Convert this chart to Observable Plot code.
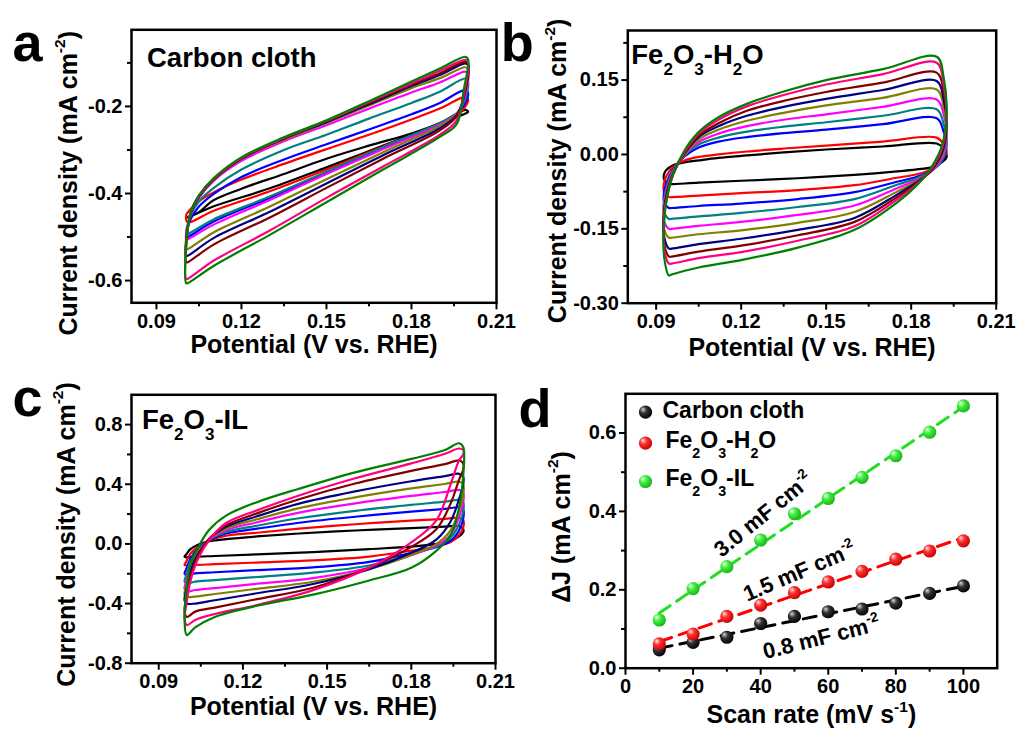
<!DOCTYPE html>
<html>
<head>
<meta charset="utf-8">
<script src="https://cdn.jsdelivr.net/npm/d3@7"></script>
<script src="https://cdn.jsdelivr.net/npm/@observablehq/plot@0.6"></script>
<style>
  html, body { margin: 0; padding: 0; background: #ffffff; }
  #fig { position: relative; width: 1019px; height: 731px; overflow: hidden; background: #ffffff; }
</style>
</head>
<body>
<svg width="0" height="0" style="position:absolute">
  <defs>
    <radialGradient id="ballK" cx="0.4" cy="0.4" r="0.65" fx="0.3" fy="0.28">
      <stop offset="0" stop-color="#d8d8d8"/><stop offset="0.4" stop-color="#333333"/><stop offset="1" stop-color="#000000"/>
    </radialGradient>
    <radialGradient id="ballR" cx="0.4" cy="0.4" r="0.65" fx="0.3" fy="0.28">
      <stop offset="0" stop-color="#ffe4e4"/><stop offset="0.4" stop-color="#ff3030"/><stop offset="1" stop-color="#c00000"/>
    </radialGradient>
    <radialGradient id="ballG" cx="0.4" cy="0.4" r="0.65" fx="0.3" fy="0.28">
      <stop offset="0" stop-color="#eeffee"/><stop offset="0.4" stop-color="#44ee44"/><stop offset="1" stop-color="#12b012"/>
    </radialGradient>
  </defs>
</svg>
<div id="fig"></div>
<script>
// ---------------- shared ----------------
const scanRates = [10, 20, 30, 40, 50, 60, 70, 80, 90, 100];
const cvColors = ["#000000", "#ff0000", "#0000ff", "#008080", "#ff00ff", "#808000", "#000080", "#800000", "#ff0080", "#008000"];
const panelLetters = ["a", "b", "c", "d"];
const panelTitles = ["Carbon cloth", "Fe_2O_3-H_2O", "Fe_2O_3-IL"];
const cvXTitle = "Potential (V vs. RHE)";
const cvYTitle = "Current density (mA cm^{-2})";
const dXTitle = "Scan rate (mV s^{-1})";
const dYTitle = "ΔJ (mA cm^{-2})";
const cvXTicks = [0.09, 0.12, 0.15, 0.18, 0.21];
const cvXMinor = [0.105, 0.135, 0.165, 0.195];

// ---------------- panel a: Carbon cloth ----------------
const aYTicks = [-0.6, -0.4, -0.2];
const aYMinor = [-0.5, -0.3, -0.1];
const aUpX = [0.1005, 0.102, 0.105, 0.11, 0.12, 0.135, 0.15, 0.165, 0.18, 0.19, 0.199];
const aUpY = [
  [-0.455, -0.452, -0.443, -0.416, -0.389, -0.355, -0.320, -0.290, -0.262, -0.238, -0.208],
  [-0.450, -0.436, -0.418, -0.398, -0.368, -0.332, -0.298, -0.265, -0.230, -0.205, -0.178],
  [-0.500, -0.460, -0.430, -0.402, -0.362, -0.322, -0.287, -0.253, -0.218, -0.192, -0.162],
  [-0.493, -0.452, -0.418, -0.388, -0.345, -0.300, -0.265, -0.228, -0.192, -0.166, -0.136],
  [-0.505, -0.448, -0.410, -0.372, -0.325, -0.280, -0.243, -0.205, -0.168, -0.145, -0.120],
  [-0.528, -0.447, -0.408, -0.370, -0.321, -0.276, -0.238, -0.198, -0.158, -0.135, -0.110],
  [-0.543, -0.447, -0.407, -0.369, -0.320, -0.274, -0.236, -0.195, -0.153, -0.128, -0.101],
  [-0.558, -0.446, -0.406, -0.368, -0.319, -0.273, -0.234, -0.192, -0.150, -0.124, -0.097],
  [-0.596, -0.446, -0.405, -0.367, -0.318, -0.272, -0.233, -0.190, -0.147, -0.118, -0.093],
  [-0.606, -0.445, -0.404, -0.366, -0.317, -0.271, -0.232, -0.188, -0.143, -0.113, -0.086]
];
const aDnX = [0.2, 0.1985, 0.196, 0.19, 0.17, 0.15, 0.13, 0.11, 0.101];
const aDnY = [
  [-0.212, -0.218, -0.224, -0.240, -0.290, -0.340, -0.388, -0.430, -0.455],
  [-0.185, -0.205, -0.222, -0.242, -0.292, -0.345, -0.395, -0.440, -0.466],
  [-0.170, -0.198, -0.218, -0.240, -0.295, -0.352, -0.410, -0.465, -0.500],
  [-0.145, -0.190, -0.215, -0.238, -0.293, -0.350, -0.407, -0.460, -0.493],
  [-0.125, -0.185, -0.217, -0.242, -0.298, -0.355, -0.415, -0.472, -0.505],
  [-0.115, -0.180, -0.218, -0.245, -0.305, -0.367, -0.430, -0.490, -0.528],
  [-0.106, -0.178, -0.220, -0.250, -0.312, -0.377, -0.442, -0.503, -0.543],
  [-0.102, -0.175, -0.222, -0.255, -0.320, -0.387, -0.455, -0.518, -0.558],
  [-0.098, -0.170, -0.232, -0.265, -0.338, -0.410, -0.485, -0.555, -0.596],
  [-0.092, -0.160, -0.240, -0.270, -0.345, -0.420, -0.495, -0.567, -0.606]
];

// ---------------- panel b: Fe2O3-H2O ----------------
const bYTicks = [-0.30, -0.15, 0.00, 0.15];
const bYMinor = [-0.225, -0.075, 0.075, 0.225];
const bUpX = [0.0945, 0.0928, 0.0927, 0.0935, 0.096, 0.1, 0.105, 0.112, 0.122, 0.135, 0.15, 0.17, 0.189];
const bUpY = [
  [-0.060, -0.050, -0.042, -0.032, -0.022, -0.016, -0.012, -0.007, -0.002, 0.004, 0.010, 0.016, 0.022],
  [-0.086, -0.075, -0.060, -0.045, -0.025, -0.012, -0.005, 0.000, 0.006, 0.012, 0.018, 0.026, 0.034],
  [-0.108, -0.095, -0.080, -0.060, -0.030, -0.004, 0.014, 0.026, 0.035, 0.043, 0.050, 0.061, 0.073],
  [-0.130, -0.115, -0.095, -0.070, -0.032, -0.002, 0.020, 0.034, 0.046, 0.056, 0.065, 0.078, 0.091],
  [-0.150, -0.135, -0.105, -0.075, -0.034, -0.001, 0.025, 0.042, 0.057, 0.070, 0.081, 0.096, 0.111],
  [-0.168, -0.150, -0.115, -0.080, -0.036, 0.000, 0.030, 0.050, 0.068, 0.084, 0.099, 0.114, 0.131],
  [-0.190, -0.165, -0.125, -0.085, -0.038, 0.002, 0.035, 0.057, 0.078, 0.096, 0.112, 0.130, 0.148],
  [-0.206, -0.180, -0.130, -0.090, -0.040, 0.003, 0.038, 0.063, 0.088, 0.108, 0.126, 0.145, 0.165],
  [-0.220, -0.190, -0.140, -0.095, -0.040, 0.005, 0.042, 0.070, 0.097, 0.120, 0.141, 0.162, 0.185],
  [-0.244, -0.205, -0.150, -0.100, -0.040, 0.008, 0.045, 0.075, 0.102, 0.127, 0.150, 0.172, 0.197]
];
const bDnX = [0.1915, 0.1925, 0.191, 0.187, 0.182, 0.175, 0.16, 0.14, 0.12, 0.105, 0.0955];
const bDnY = [
  [0.012, -0.005, -0.015, -0.026, -0.030, -0.034, -0.041, -0.048, -0.053, -0.057, -0.060],
  [0.020, 0.005, -0.010, -0.030, -0.040, -0.047, -0.062, -0.072, -0.078, -0.083, -0.086],
  [0.045, 0.020, -0.012, -0.033, -0.045, -0.055, -0.076, -0.090, -0.099, -0.104, -0.108],
  [0.060, 0.030, -0.010, -0.034, -0.048, -0.061, -0.090, -0.106, -0.118, -0.125, -0.130],
  [0.080, 0.040, -0.005, -0.034, -0.051, -0.068, -0.103, -0.122, -0.136, -0.144, -0.150],
  [0.095, 0.050, 0.000, -0.034, -0.054, -0.075, -0.116, -0.138, -0.153, -0.161, -0.168],
  [0.110, 0.060, 0.005, -0.033, -0.056, -0.081, -0.128, -0.152, -0.170, -0.181, -0.190],
  [0.125, 0.070, 0.010, -0.032, -0.058, -0.086, -0.136, -0.163, -0.184, -0.196, -0.206],
  [0.140, 0.080, 0.015, -0.030, -0.060, -0.091, -0.145, -0.174, -0.197, -0.209, -0.220],
  [0.154, 0.087, 0.020, -0.027, -0.062, -0.097, -0.152, -0.188, -0.213, -0.228, -0.242]
];

// ---------------- panel c: Fe2O3-IL ----------------
const cYTicks = [-0.8, -0.4, 0.0, 0.4, 0.8];
const cYMinor = [-0.6, -0.2, 0.2, 0.6];
const cUpX = [0.1, 0.0992, 0.0998, 0.1013, 0.104, 0.108, 0.114, 0.125, 0.14, 0.16, 0.18, 0.192, 0.197];
const cUpY = [
  [-0.090, -0.085, -0.070, -0.035, -0.005, 0.018, 0.032, 0.050, 0.070, 0.090, 0.106, 0.116, 0.120],
  [-0.145, -0.140, -0.120, -0.065, -0.020, 0.022, 0.055, 0.075, 0.102, 0.132, 0.156, 0.168, 0.175],
  [-0.210, -0.200, -0.170, -0.100, -0.030, 0.025, 0.070, 0.102, 0.142, 0.182, 0.216, 0.235, 0.245],
  [-0.265, -0.250, -0.210, -0.120, -0.040, 0.028, 0.080, 0.122, 0.172, 0.222, 0.262, 0.283, 0.295],
  [-0.320, -0.300, -0.250, -0.140, -0.050, 0.030, 0.092, 0.145, 0.210, 0.272, 0.322, 0.348, 0.362],
  [-0.355, -0.340, -0.280, -0.160, -0.060, 0.032, 0.104, 0.165, 0.240, 0.312, 0.372, 0.402, 0.418],
  [-0.400, -0.380, -0.310, -0.180, -0.070, 0.035, 0.115, 0.185, 0.270, 0.352, 0.420, 0.455, 0.470],
  [-0.490, -0.450, -0.370, -0.220, -0.080, 0.035, 0.125, 0.205, 0.300, 0.405, 0.490, 0.535, 0.560],
  [-0.545, -0.500, -0.410, -0.250, -0.100, 0.025, 0.140, 0.225, 0.325, 0.440, 0.540, 0.605, 0.640],
  [-0.611, -0.500, -0.320, -0.141, -0.025, 0.095, 0.190, 0.280, 0.370, 0.480, 0.570, 0.630, 0.675]
];
const cDnX = [0.1985, 0.1985, 0.197, 0.194, 0.189, 0.18, 0.165, 0.145, 0.125, 0.11, 0.103];
const cDnY = [
  [0.100, 0.080, 0.050, 0.020, 0.000, -0.018, -0.035, -0.055, -0.070, -0.081, -0.086],
  [0.160, 0.110, 0.060, 0.012, -0.018, -0.045, -0.085, -0.111, -0.125, -0.136, -0.141],
  [0.230, 0.170, 0.090, 0.020, -0.020, -0.060, -0.120, -0.157, -0.176, -0.190, -0.197],
  [0.280, 0.220, 0.130, 0.040, -0.015, -0.070, -0.145, -0.193, -0.222, -0.243, -0.253],
  [0.345, 0.280, 0.180, 0.060, -0.010, -0.075, -0.160, -0.229, -0.267, -0.296, -0.309],
  [0.400, 0.330, 0.220, 0.090, 0.000, -0.075, -0.170, -0.254, -0.301, -0.336, -0.353],
  [0.450, 0.400, 0.300, 0.150, 0.030, -0.060, -0.170, -0.269, -0.331, -0.378, -0.400],
  [0.540, 0.500, 0.430, 0.270, 0.100, -0.020, -0.160, -0.294, -0.370, -0.427, -0.454],
  [0.630, 0.600, 0.560, 0.400, 0.160, 0.010, -0.160, -0.310, -0.410, -0.470, -0.510],
  [0.650, 0.460, 0.240, 0.060, -0.045, -0.160, -0.245, -0.340, -0.415, -0.490, -0.560]
];

// ---------------- panel d: ΔJ vs scan rate ----------------
const dXTicks = [0, 20, 40, 60, 80, 100];
const dXMinor = [10, 30, 50, 70, 90];
const dYTicks = [0.0, 0.2, 0.4, 0.6];
const dYMinor = [0.1, 0.3, 0.5];
const seriesNames = ["Carbon cloth", "Fe_2O_3-H_2O", "Fe_2O_3-IL"];
const dJ_CC  = [0.047, 0.066, 0.079, 0.114, 0.132, 0.144, 0.151, 0.166, 0.191, 0.210];
const dJ_H2O = [0.062, 0.087, 0.132, 0.161, 0.193, 0.220, 0.247, 0.278, 0.299, 0.325];
const dJ_IL  = [0.123, 0.203, 0.259, 0.327, 0.394, 0.433, 0.487, 0.542, 0.602, 0.669];
const cdlLabels = ["0.8 mF cm^{-2}", "1.5 mF cm^{-2}", "3.0 mF cm^{-2}"];

// ---------------- helpers ----------------
const FONT = '"Liberation Sans", Arial, Helvetica, sans-serif';
const fig = document.getElementById("fig");
const fmt = (d) => (v) => (v < -1e-9 ? "-" : "") + Math.abs(v).toFixed(d);
const T = (s) => [s];
const ident = (d) => d;

function loops(upX, upY, dnX, dnY) {
  return scanRates.map((rate, i) => [
    ...upX.map((x, j) => ({rate, x, y: upY[i][j]})),
    ...dnX.map((x, j) => ({rate, x, y: dnY[i][j]}))
  ]);
}

function axes(xMajor, xMinor, yMajor, yMinor, xf, yf) {
  return [
    Plot.axisX({ticks: xMajor, tickSize: 7, tickPadding: 4, tickFormat: xf, fontSize: 20, strokeWidth: 2, label: null}),
    Plot.axisX({ticks: xMinor, tickSize: 4, tickFormat: () => "", strokeWidth: 2, label: null}),
    Plot.axisY({ticks: yMajor, tickSize: 6, tickPadding: 3, tickFormat: yf, fontSize: 20, strokeWidth: 2, label: null}),
    Plot.axisY({ticks: yMinor, tickSize: 4, tickFormat: () => "", strokeWidth: 2, label: null})
  ];
}

function richify(root) {
  root.querySelectorAll("text").forEach((t) => {
    if (t.querySelector("tspan")) return;
    const s = t.textContent;
    if (!/[_^]/.test(s)) return;
    const size = parseFloat(getComputedStyle(t).fontSize) || 16;
    t.textContent = "";
    let shift = 0;
    const re = /([_^])\{([^}]*)\}|([_^])(.)|([^_^]+)/g;
    let m;
    while ((m = re.exec(s))) {
      const ts = document.createElementNS("http://www.w3.org/2000/svg", "tspan");
      let target = 0, txt, small = false;
      if (m[1] || m[3]) {
        small = true;
        const kind = m[1] || m[3];
        txt = m[2] !== undefined ? m[2] : m[4];
        target = kind === "_" ? 0.42 * size : -0.45 * size;
      } else txt = m[5];
      const d = target - shift;
      if (d) ts.setAttribute("dy", d.toFixed(2));
      shift = target;
      if (small) ts.setAttribute("font-size", (0.62 * size).toFixed(2));
      ts.textContent = txt;
      t.appendChild(ts);
    }
  });
}

function place(svg, left, top) {
  svg.style.position = "absolute";
  svg.style.left = left + "px";
  svg.style.top = top + "px";
  fig.appendChild(svg);
  richify(svg);
}

const baseStyle = {fontFamily: FONT, fontWeight: "bold", background: "transparent", overflow: "visible", color: "black"};

function cvPanel(o) {
  const lp = loops(o.upX, o.upY, o.dnX, o.dnY);
  const svg = Plot.plot({
    width: o.w, height: o.h,
    marginLeft: o.ml, marginRight: o.mr, marginTop: o.mt, marginBottom: o.mb,
    x: {domain: o.xd, axis: null},
    y: {domain: o.yd, axis: null},
    style: baseStyle,
    marks: [
      ...lp.map((rows, i) => Plot.line(rows, {x: "x", y: "y", stroke: cvColors[i], strokeWidth: 2.2, curve: "catmull-rom-closed"})),
      ...axes(cvXTicks, cvXMinor, o.yTicks, o.yMinor, fmt(2), fmt(o.yDec)),
      Plot.frame({stroke: "black", strokeWidth: 2.5}),
      Plot.text(T(o.letter), {text: ident, frameAnchor: "top-left", dx: o.letterDx, dy: o.letterDy, lineAnchor: "bottom", textAnchor: "start", fontSize: 54}),
      Plot.text(T(o.title), {text: ident, frameAnchor: "top-left", dx: o.titleDx, dy: o.titleDy, lineAnchor: "bottom", textAnchor: "start", fontSize: 27.5}),
      Plot.text(T(cvXTitle), {text: ident, frameAnchor: "bottom", dy: o.xtDy, lineAnchor: "bottom", textAnchor: "middle", fontSize: 25}),
      Plot.text(T(cvYTitle), {text: ident, frameAnchor: "left", rotate: -90, dx: o.ytDx, dy: o.ytDy, lineAnchor: "bottom", textAnchor: "middle", fontSize: 25})
    ]
  });
  place(svg, o.left, o.top);
}

// panel a
cvPanel({left: 0, top: 0, w: 510, h: 365, ml: 131, mr: 14, mt: 29.3, mb: 62.7,
  xd: [0.0812, 0.21], yd: [-0.651, -0.024], yTicks: aYTicks, yMinor: aYMinor, yDec: 1,
  upX: aUpX, upY: aUpY, dnX: aDnX, dnY: aDnY,
  letter: panelLetters[0], letterDx: -119, letterDy: 31,
  title: panelTitles[0], titleDx: 15.5, titleDy: 37,
  xtDy: 50, ytDx: -55, ytDy: 17});

// panel b
cvPanel({left: 510, top: 0, w: 509, h: 365, ml: 117.3, mr: 23.3, mt: 30, mb: 62.3,
  xd: [0.08, 0.21], yd: [-0.30, 0.25], yTicks: bYTicks, yMinor: bYMinor, yDec: 2,
  upX: bUpX, upY: bUpY, dnX: bDnX, dnY: bDnY,
  letter: panelLetters[1], letterDx: -127, letterDy: 30,
  title: panelTitles[1], titleDx: 3.5, titleDy: 33,
  xtDy: 53, ytDx: -62, ytDy: 4});

// panel c
cvPanel({left: 0, top: 365, w: 510, h: 366, ml: 131, mr: 15, mt: 29.3, mb: 68.3,
  xd: [0.0803, 0.21], yd: [-0.8, 1.0], yTicks: cYTicks, yMinor: cYMinor, yDec: 1,
  upX: cUpX, upY: cUpY, dnX: cDnX, dnY: cDnY,
  letter: panelLetters[2], letterDx: -119, letterDy: 21,
  title: panelTitles[2], titleDx: 10.5, titleDy: 34,
  xtDy: 52, ytDx: -57, ytDy: 5.5});

// panel d
(function () {
  const series = [dJ_CC, dJ_H2O, dJ_IL];
  const lineColors = ["#000000", "#ff0000", "#22dd22"];
  const ballFills = ["url(#ballK)", "url(#ballR)", "url(#ballG)"];
  const rows = series.map((vals) => scanRates.map((rate, i) => ({rate, dj: vals[i]})));
  const legendDotDy = [18.4, 49.4, 87.7];
  const legendTextDx = [37, 40, 40];
  const legendTextDy = [24, 54.4, 92.4];
  const cdlPos = [{dx: 196, dy: 244, r: -14}, {dx: 174, dy: 178, r: -23}, {dx: 138, dy: 121, r: -39}];
  const svg = Plot.plot({
    width: 509, height: 366,
    marginLeft: 115, marginRight: 22.3, marginTop: 28.3, marginBottom: 63.3,
    x: {domain: [0, 110], axis: null},
    y: {domain: [0, 0.7], axis: null},
    style: baseStyle,
    marks: [
      ...rows.map((r, k) => Plot.linearRegressionY(r, {x: "rate", y: "dj", stroke: lineColors[k], strokeWidth: 3, strokeDasharray: "13,8", ci: 0})),
      ...rows.map((r, k) => Plot.dot(r, {x: "rate", y: "dj", r: 6.6, fill: ballFills[k], stroke: "none"})),
      ...axes(dXTicks, dXMinor, dYTicks, dYMinor, fmt(0), fmt(1)),
      Plot.frame({stroke: "black", strokeWidth: 2.5}),
      ...seriesNames.map((name, k) => Plot.dot(T(name), {frameAnchor: "top-left", dx: 20, dy: legendDotDy[k], r: 6.6, fill: ballFills[k], stroke: "none"})),
      ...seriesNames.map((name, k) => Plot.text(T(name), {text: ident, frameAnchor: "top-left", dx: legendTextDx[k], dy: legendTextDy[k], lineAnchor: "bottom", textAnchor: "start", fontSize: 23})),
      ...cdlLabels.map((lab, k) => Plot.text(T(lab), {text: ident, frameAnchor: "top-left", dx: cdlPos[k].dx, dy: cdlPos[k].dy, rotate: cdlPos[k].r, lineAnchor: "middle", textAnchor: "middle", fontSize: 22})),
      Plot.text(T(panelLetters[3]), {text: ident, frameAnchor: "top-left", dx: -107, dy: 33.4, lineAnchor: "bottom", textAnchor: "start", fontSize: 54}),
      Plot.text(T(dXTitle), {text: ident, frameAnchor: "bottom", dy: 55, lineAnchor: "bottom", textAnchor: "middle", fontSize: 25}),
      Plot.text(T(dYTitle), {text: ident, frameAnchor: "left", rotate: -90, dx: -56, dy: -4, lineAnchor: "bottom", textAnchor: "middle", fontSize: 25})
    ]
  });
  place(svg, 510, 365);
})();
</script>
</body>
</html>
